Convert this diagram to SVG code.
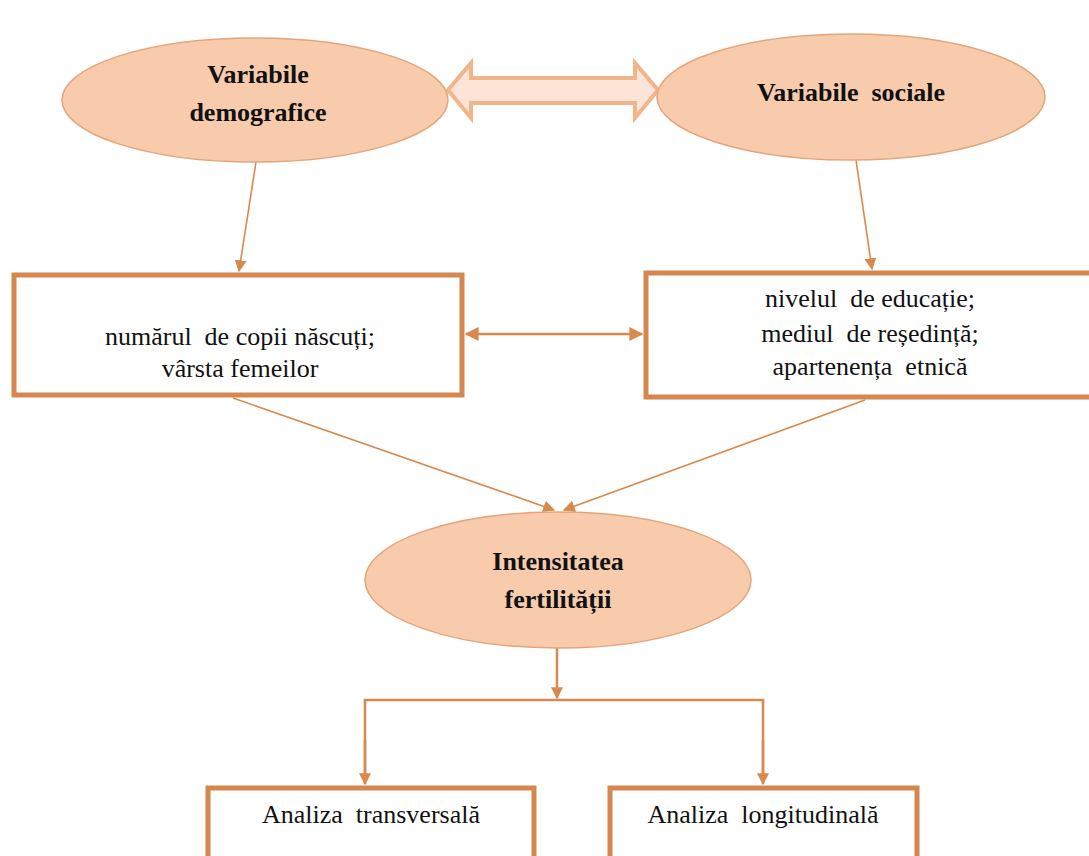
<svg xmlns="http://www.w3.org/2000/svg" width="1089" height="856" viewBox="0 0 1089 856">
<style>
.ell{fill:#f8cbad;stroke:#e3a57a;stroke-width:1.5}
.box{fill:#ffffff;stroke:#d4874e;stroke-width:5}
text{font-family:"Liberation Serif",serif;font-size:26px;fill:#111;text-anchor:middle;white-space:pre}
.b{font-weight:bold;font-size:26px}
.c{fill:none;stroke:#d8894d;stroke-width:1.6}
.c2{fill:none;stroke:#d8894d;stroke-width:2.5}
</style>
<defs>
<marker id="ah" markerWidth="12" markerHeight="12" refX="9" refY="5" orient="auto" markerUnits="userSpaceOnUse" viewBox="0 0 10 10">
<path d="M0,0 L10,5 L0,10 z" fill="#d8894d"/>
</marker>
<marker id="ahs" markerWidth="14" markerHeight="14" refX="9" refY="5" orient="auto-start-reverse" markerUnits="userSpaceOnUse" viewBox="0 0 10 10">
<path d="M0,0 L10,5 L0,10 z" fill="#d8894d"/>
</marker>
</defs>
<rect width="1089" height="856" fill="#ffffff"/>
<g id="connectors">
<polygon points="448,90 471,63 471,78 635,78 635,63 658,90 635,118 635,103 471,103 471,118" fill="#fce4d6" stroke="#f3b48a" stroke-width="4" stroke-linejoin="miter"/>
<line class="c" x1="256" y1="162" x2="239" y2="271" marker-end="url(#ah)"/>
<line class="c" x1="856" y1="160" x2="872" y2="269" marker-end="url(#ah)"/>
<line class="c2" x1="466" y1="334" x2="642" y2="334" marker-start="url(#ahs)" marker-end="url(#ahs)"/>
<line class="c" x1="233" y1="398" x2="554" y2="510" marker-end="url(#ah)"/>
<line class="c" x1="865" y1="400" x2="564" y2="510" marker-end="url(#ah)"/>
<line class="c2" x1="557" y1="648" x2="557" y2="698" marker-end="url(#ah)"/>
<polyline class="c2" points="365,782 365,700 763,700 763,782"/>
<line class="c2" x1="365" y1="740" x2="365" y2="784" marker-end="url(#ah)"/>
<line class="c2" x1="763" y1="740" x2="763" y2="784" marker-end="url(#ah)"/>
</g>
<g id="node-demografice">
<ellipse class="ell" cx="255" cy="100" rx="193" ry="62"/>
<text class="b" x="258" y="83">Variabile</text>
<text class="b" x="258" y="121">demografice</text>
</g>
<g id="node-sociale">
<ellipse class="ell" cx="851" cy="97" rx="194" ry="63"/>
<text class="b" x="851" y="101" xml:space="preserve">Variabile  sociale</text>
</g>
<g id="box-demografice">
<rect class="box" x="14" y="275" width="448" height="120"/>
<text x="240" y="345" xml:space="preserve">numărul  de copii născuți;</text>
<text x="240" y="377">vârsta femeilor</text>
</g>
<g id="box-sociale">
<rect class="box" x="646" y="273" width="460" height="124"/>
<text x="870" y="307" xml:space="preserve">nivelul  de educație;</text>
<text x="870" y="342" xml:space="preserve">mediul  de reședință;</text>
<text x="870" y="375" xml:space="preserve">apartenența  etnică</text>
</g>
<g id="node-intensitatea">
<ellipse class="ell" cx="558" cy="580" rx="193" ry="68"/>
<text class="b" x="558" y="570">Intensitatea</text>
<text class="b" x="558" y="608">fertilității</text>
</g>
<g id="box-transversala">
<rect class="box" x="208" y="788" width="326" height="80"/>
<text x="371" y="823" xml:space="preserve">Analiza  transversală</text>
</g>
<g id="box-longitudinala">
<rect class="box" x="610" y="788" width="307" height="80"/>
<text x="763" y="823" xml:space="preserve">Analiza  longitudinală</text>
</g>
</svg>
